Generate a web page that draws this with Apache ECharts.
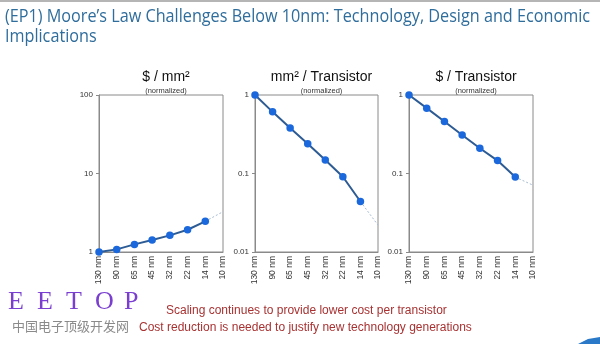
<!DOCTYPE html>
<html>
<head>
<meta charset="utf-8">
<script src="https://cdn.jsdelivr.net/npm/echarts@6/dist/echarts.min.js"></script>
<style>
html,body{margin:0;padding:0;background:#fff;}
#c{width:600px;height:344px;}
</style>
</head>
<body>
<div id="c"></div>
<script>
var categories = ['130 nm','90 nm','65 nm','45 nm','32 nm','22 nm','14 nm','10 nm'];
var costPerArea = [1, 1.08, 1.25, 1.42, 1.63, 1.92, 2.46, null];
var costPerAreaProj = [null, null, null, null, null, null, 2.46, 3.26];
var areaPerTransistor = [1, 0.61, 0.38, 0.24, 0.149, 0.091, 0.044, null];
var areaPerTransistorProj = [null, null, null, null, null, null, 0.044, 0.022];
var costPerTransistor = [1, 0.68, 0.46, 0.31, 0.21, 0.146, 0.09, null];
var costPerTransistorProj = [null, null, null, null, null, null, 0.09, 0.071];
var chartTitles = ['$ / mm\u00b2', 'mm\u00b2 / Transistor', '$ / Transistor'];
var yRanges = [[1, 100], [0.01, 1], [0.01, 1]];
var headline1 = '(EP1) Moore\u2019s Law Challenges Below 10nm: Technology, Design and Economic';
var headline2 = 'Implications';
var note1 = 'Scaling continues to provide lower cost per transistor';
var note2 = 'Cost reduction is needed to justify new technology generations';
var logoLetters = ['E', 'E', 'T', 'O', 'P'];
var logoSub = '中国电子顶级开发网';

var grids = [
  {left: 99, top: 95, width: 124, height: 157},
  {left: 255, top: 95, width: 123, height: 157},
  {left: 409, top: 95, width: 124, height: 157}
];
var lineColor = '#2d5b93';
var markerColor = '#1b68dc';
var font = 'Liberation Sans, Arial, sans-serif';

var xAxes = [], yAxes = [], series = [], titles = [];
var mainData = [costPerArea, areaPerTransistor, costPerTransistor];
var projData = [costPerAreaProj, areaPerTransistorProj, costPerTransistorProj];
grids.forEach(function (g, i) {
  g.show = true; g.borderColor = '#8a8a8a'; g.borderWidth = 1;
  xAxes.push({
    type: 'category', gridIndex: i, data: categories, boundaryGap: false,
    axisLine: {show: true, lineStyle: {color: '#8a8a8a'}},
    axisTick: {show: false},
    axisLabel: {rotate: 90, fontSize: 8.5, color: '#333', fontFamily: font, interval: 0, margin: 4},
    splitLine: {show: false}
  });
  yAxes.push({
    type: 'log', logBase: 10, gridIndex: i, min: yRanges[i][0], max: yRanges[i][1],
    axisLine: {show: true, lineStyle: {color: '#8a8a8a'}},
    axisTick: {show: true, length: 3, lineStyle: {color: '#8a8a8a'}},
    axisLabel: {fontSize: 8, color: '#333', fontFamily: font, margin: 6},
    splitLine: {show: false}, minorTick: {show: false}
  });
  series.push({
    type: 'line', xAxisIndex: i, yAxisIndex: i, data: projData[i],
    showSymbol: false, symbol: 'none',
    lineStyle: {color: '#a8bcd2', width: 1, type: [2, 2]}, z: 1
  });
  series.push({
    type: 'line', xAxisIndex: i, yAxisIndex: i, data: mainData[i],
    symbol: 'circle', symbolSize: 7.5,
    itemStyle: {color: markerColor},
    lineStyle: {color: lineColor, width: 2}, z: 2
  });
  var cx = g.left + g.width / 2;
  titles.push({
    text: chartTitles[i], left: cx, top: 65, textAlign: 'center',
    textStyle: {fontSize: 14, fontWeight: 'normal', color: '#111', fontFamily: font}
  });
  titles.push({
    text: '(normalized)', left: cx, top: 82, textAlign: 'center',
    textStyle: {fontSize: 7.5, fontWeight: 'normal', color: '#333', fontFamily: font}
  });
});

// fit headline width to the reference's narrow slide font
var headFont = '18px "Open Sans", sans-serif';
var cv = document.createElement('canvas').getContext('2d');
cv.font = headFont;
var headScale = 585 / cv.measureText(headline1).width;

var graphics = [
  {type: 'rect', shape: {x: 0, y: 0, width: 600, height: 2}, style: {fill: '#b5b5b5'}},
  {type: 'text', x: 5, y: 8, scaleX: headScale, style: {text: headline1, fill: '#2f6d9c', font: headFont}},
  {type: 'text', x: 5, y: 28, scaleX: headScale, style: {text: headline2, fill: '#2f6d9c', font: headFont}},
  {type: 'text', x: 12, y: 320, style: {text: logoSub, fill: '#8a8a8a', font: '13px "Noto Sans CJK SC", sans-serif'}},
  {type: 'text', x: 166, y: 305, style: {text: note1, fill: '#a83232', font: '12px "Liberation Sans", Arial, sans-serif'}},
  {type: 'text', x: 139, y: 322, style: {text: note2, fill: '#a83232', font: '12px "Liberation Sans", Arial, sans-serif'}},
  {type: 'polygon', shape: {points: [[578, 344], [588, 339], [600, 337], [600, 344]]}, style: {fill: '#2a78c8'}}
];
logoLetters.forEach(function (ch, k) {
  graphics.push({type: 'text', x: 8 + k * 29, y: 289, style: {text: ch, fill: '#7a3fd0', font: '26px "Liberation Serif", serif'}});
});

var chart = echarts.init(document.getElementById('c'));
chart.setOption({
  animation: false,
  backgroundColor: '#ffffff',
  title: titles,
  grid: grids,
  xAxis: xAxes,
  yAxis: yAxes,
  series: series,
  graphic: graphics
});
</script>
</body>
</html>
